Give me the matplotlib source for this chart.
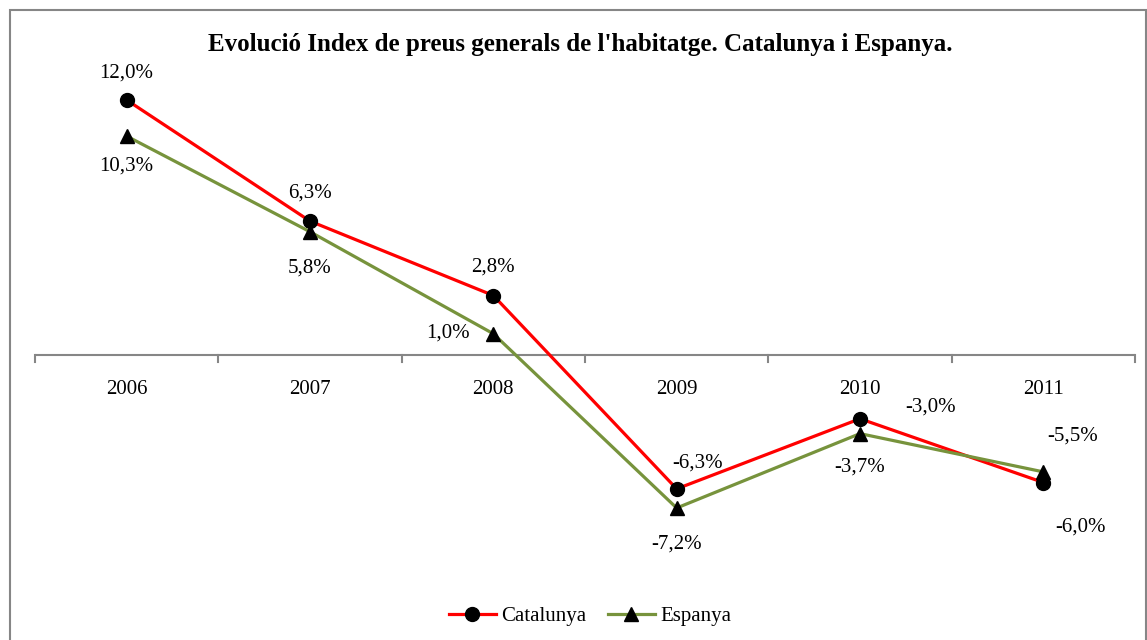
import matplotlib
matplotlib.use("Agg")
import matplotlib.pyplot as plt
from matplotlib.patches import Rectangle
from matplotlib.lines import Line2D

years = ["2006", "2007", "2008", "2009", "2010", "2011"]
catalunya = [12.0, 6.3, 2.8, -6.3, -3.0, -6.0]
espanya = [10.3, 5.8, 1.0, -7.2, -3.7, -5.5]

cat_offsets = [(0, 27), (0, 28), (0, 28), (21, 26), (71, 12), (37, -45)]
esp_offsets = [(0, -30), (0, -36), (-45, 1), (0, -36), (0, -33), (29, 36)]

W, H = 1147, 640
fig = plt.figure(figsize=(W / 100, H / 100), dpi=100)
plt.rcParams['font.family'] = ['Liberation Serif', 'DejaVu Serif']

# outer border
fig.patches.append(Rectangle((10 / W, -0.05), (W - 11) / W, 1 - 10 / H + 0.05,
                             transform=fig.transFigure, fill=False,
                             edgecolor='#868686', linewidth=1.5))

ax = fig.add_axes([35 / W, 1 - 567.5 / H, 1100 / W, 510 / H])
ax.set_xlim(0, 6)
ax.set_ylim(-10, 14)
x = [i + 0.5 for i in range(len(years))]

red = '#FF0000'
green = '#77933C'
ms = 10
lw = 2.3
ax.plot(x, catalunya, color=red, lw=lw, marker='o', ms=ms, mfc='black', mec='black', zorder=3)
ax.plot(x, espanya, color=green, lw=lw, marker='^', ms=ms, mfc='black', mec='black', zorder=3)

def fmt(v):
    return f"{v:.1f}%".replace('.', ',')

fs = 15
for xi, v, off in zip(x, catalunya, cat_offsets):
    ax.annotate(fmt(v), (xi, v), xytext=off, textcoords='offset pixels',
                ha='center', va='center', fontsize=fs)
for xi, v, off in zip(x, espanya, esp_offsets):
    ax.annotate(fmt(v), (xi, v), xytext=off, textcoords='offset pixels',
                ha='center', va='center', fontsize=fs)

for s in ['left', 'right', 'top', 'bottom']:
    ax.spines[s].set_visible(False)
ax.set_yticks([])
ax.set_xticks([])
ax.axhline(0, color='#868686', lw=1.5, zorder=1)
for b in range(7):
    ax.plot([b, b], [0, -0.35], color='#868686', lw=1.5, clip_on=False, zorder=1)
for xi, y in zip(x, years):
    ax.text(xi, -1.6, y, ha='center', va='center', fontsize=fs)

fig.text(580 / W, 1 - 45 / H, "Evolució Index de preus generals de l'habitatge. Catalunya i Espanya.",
         ha='center', va='center', fontsize=18, fontweight='bold')

handles = [Line2D([0], [0], color=red, lw=lw, marker='o', ms=ms, mfc='black', mec='black'),
           Line2D([0], [0], color=green, lw=lw, marker='^', ms=ms, mfc='black', mec='black')]
fig.legend(handles, ['Catalunya', 'Espanya'], loc='center', bbox_to_anchor=(590 / W, 1 - 616 / H),
           ncol=2, frameon=False, fontsize=fs, handlelength=2.25, handletextpad=0.25, columnspacing=1.05)

fig.savefig('out.png', dpi=100)
